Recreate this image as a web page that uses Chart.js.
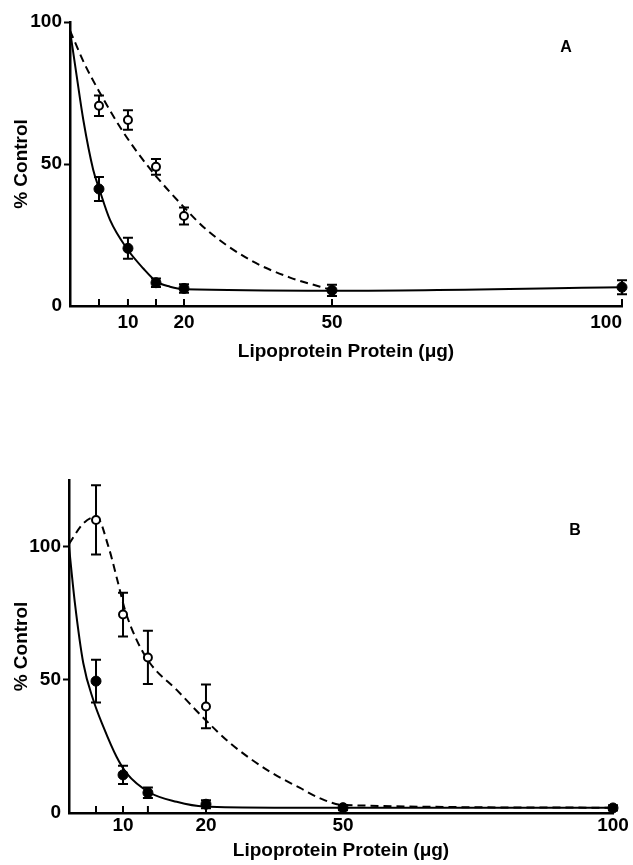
<!DOCTYPE html>
<html>
<head>
<meta charset="utf-8">
<script src="https://cdn.jsdelivr.net/npm/chart.js@4.4.1/dist/chart.umd.min.js"></script>
<style>
  html, body { margin: 0; padding: 0; background: #ffffff; }
  #chartA { position: absolute; left: 0; top: 0; }
  #chartB { position: absolute; left: 0; top: 440px; }
</style>
</head>
<body>
<canvas id="chartA" width="633" height="380"></canvas>
<canvas id="chartB" width="633" height="425"></canvas>
<script>
// ---------------- DATA ----------------
// x tick values (minor + labelled) and the labels shown
const xTicksA = [5, 10, 15, 20, 50, 100];
const xTicksB = [5, 10, 13, 20, 50, 100];
const xTickLabels = [10, 20, 50, 100];
const yTickValues = [0, 50, 100];

// Panel A measured points
const doseClosedA = [5, 10, 15, 20, 50, 100];
const closedA     = [41.2, 20.3, 8.2, 6.2, 5.5, 6.6];
const closedErrA  = [4.2, 3.7, 1.5, 1.5, 2, 2.5];
const doseOpenA   = [5, 10, 15, 20];
const openA       = [70.5, 65.5, 49, 31.7];
const openErrA    = [3.6, 3.4, 2.8, 3];

// Panel A fitted curves
const solidCurveXA = [0, 1.15, 2.3, 4.0, 5, 6.9, 10, 12.7, 15.1, 17.5, 20, 50, 100];
const solidCurveYA = [97, 81, 65.5, 48, 41.5, 30.3, 19.7, 13.3, 8.6, 6.8, 5.9, 5.4, 6.6];
const dashCurveXA  = [0, 2.5, 5.2, 8.6, 11.6, 15.1, 19.9, 24.6, 33.4, 41.5, 47.6, 50];
const dashCurveYA  = [97, 85.3, 74.9, 63.1, 54.3, 45.5, 35, 26.8, 16.2, 10, 6.8, 5.6];

// Panel B measured points
const doseClosedB = [5, 10, 13, 20, 50, 100];
const closedB     = [49.5, 14.3, 7.6, 3.3, 2, 1.9];
const closedErrB  = [8, 3.4, 2, 1.5, 1, 1];
const doseOpenB   = [5, 10, 13, 20];
const openB       = [110, 74.5, 58.4, 40];
const openErrB    = [13, 8.2, 10, 8.2];

// Panel B fitted curves
const solidCurveXB = [0, 1.1, 2.65, 4.5, 6.35, 8.8, 10.44, 13.26, 16.47, 19.76, 35, 50, 100];
const solidCurveYB = [100, 78.7, 56.2, 42.4, 32.4, 21.1, 14.9, 7.6, 4.2, 2.4, 2, 2, 2];
const dashCurveXB  = [0, 2.65, 5.1, 7.3, 9.1, 10.24, 11.65, 13.26, 16.47, 19.76, 25.3, 34, 40.6, 45, 50, 100];
const dashCurveYB  = [101, 108.7, 111.2, 100, 86.2, 76.2, 64.9, 56.2, 46.2, 35.5, 26.2, 15.5, 9.4, 5.5, 3, 2];

// Non-uniform x axis of the original drawing (value -> axis position)
const axisKnotValues = [0, 10, 20, 50, 100];
const axisKnotPosA   = [0, 10.5, 20.65, 47.46, 100];
const axisKnotPosB   = [0, 9.93, 25.18, 50.37, 100];

// ---------------- SCALE ----------------
function pw(v, from, to) {
  for (let i = 1; i < from.length; i++) {
    if (v <= from[i] || i === from.length - 1) {
      const r = (v - from[i - 1]) / (from[i] - from[i - 1]);
      return to[i - 1] + r * (to[i] - to[i - 1]);
    }
  }
  return v;
}
class WarpScale extends Chart.LinearScale {
  static id = 'warp';
  getPixelForValue(v) {
    const o = this.options;
    return super.getPixelForValue(pw(v, o.knotValues, o.knotPos));
  }
  getValueForPixel(p) {
    const o = this.options;
    return pw(super.getValueForPixel(p), o.knotPos, o.knotValues);
  }
}
Chart.register(WarpScale);

const FONT = '"Liberation Sans", Arial, sans-serif';

// ---------------- PLUGINS ----------------
const errorBars = {
  id: 'errorBars',
  beforeDatasetsDraw(chart) {
    const { ctx, scales: { x, y } } = chart;
    ctx.save();
    ctx.strokeStyle = '#000';
    ctx.lineWidth = 2;
    chart.data.datasets.forEach(ds => {
      if (!ds.errors) return;
      ds.data.forEach((p, i) => {
        const e = ds.errors[i];
        if (!e) return;
        const px = x.getPixelForValue(p.x);
        const y1 = y.getPixelForValue(p.y + e);
        const y2 = y.getPixelForValue(p.y - e);
        ctx.beginPath();
        ctx.moveTo(px, y1); ctx.lineTo(px, y2);
        ctx.moveTo(px - 5, y1); ctx.lineTo(px + 5, y1);
        ctx.moveTo(px - 5, y2); ctx.lineTo(px + 5, y2);
        ctx.stroke();
      });
    });
    ctx.restore();
  }
};
const innerTicks = {
  id: 'innerTicks',
  afterDatasetsDraw(chart) {
    const { ctx, scales: { x } } = chart;
    const b = x.top;
    ctx.save();
    ctx.strokeStyle = '#000';
    ctx.lineWidth = 2;
    x.ticks.forEach(t => {
      const px = x.getPixelForValue(t.value);
      ctx.beginPath(); ctx.moveTo(px, b); ctx.lineTo(px, b - 7); ctx.stroke();
    });
    ctx.restore();
  }
};
const panelLabel = {
  id: 'panelLabel',
  afterDraw(chart, args, opts) {
    const { ctx, chartArea } = chart;
    ctx.save();
    ctx.font = 'bold 16px ' + FONT;
    ctx.fillStyle = '#000';
    ctx.textAlign = 'center';
    ctx.textBaseline = 'middle';
    ctx.fillText(opts.text, chartArea.right + opts.dx, chartArea.top + opts.dy);
    ctx.restore();
  }
};

function pts(xs, ys) { return xs.map((v, i) => ({ x: v, y: ys[i] })); }

function makeChart(id, p) {
  return new Chart(document.getElementById(id), {
    type: 'line',
    data: {
      datasets: [
        { label: 'closed', data: pts(p.dc, p.c), errors: p.ce, showLine: false, order: 0,
          pointRadius: 5, pointBackgroundColor: '#000', pointBorderColor: '#000', pointBorderWidth: 1, clip: false },
        { label: 'open', data: pts(p.dox, p.o), errors: p.oe, showLine: false, order: 1,
          pointRadius: 4, pointBackgroundColor: '#fff', pointBorderColor: '#000', pointBorderWidth: 2, clip: false },
        { label: 'solid fit', data: pts(p.sx, p.sy), order: 2, pointRadius: 0, borderColor: '#000', borderWidth: 2,
          cubicInterpolationMode: 'monotone', fill: false, clip: false },
        { label: 'dashed fit', data: pts(p.dx, p.dy), order: 3, pointRadius: 0, borderColor: '#000', borderWidth: 2,
          borderDash: [8, 5], cubicInterpolationMode: 'monotone', fill: false, clip: false }
      ]
    },
    options: {
      responsive: false,
      animation: false,
      events: [],
      layout: { autoPadding: false, padding: p.pad },
      plugins: {
        legend: { display: false },
        tooltip: { enabled: false },
        panelLabel: p.label
      },
      scales: {
        x: {
          type: 'warp',
          knotValues: axisKnotValues,
          knotPos: p.knots,
          min: 0, max: 100,
          afterBuildTicks: s => { s.ticks = p.xt.map(v => ({ value: v })); },
          afterFit: s => { s.height = p.xh; s.paddingLeft = 0; s.paddingRight = 0; },
          grid: { display: false, drawTicks: false },
          border: { display: true, color: '#000', width: 2.5 },
          ticks: {
            autoSkip: false, maxRotation: 0, padding: p.xpad, color: '#000', align: p.xalign,
            font: { family: FONT, size: 19, weight: 'bold' },
            callback: v => xTickLabels.includes(v) ? String(v) : ''
          },
          title: {
            display: true, text: 'Lipoprotein Protein (\u03BCg)', color: '#000',
            font: { family: FONT, size: 19, weight: 'bold' },
            padding: { top: 0, bottom: p.tpad }
          }
        },
        y: {
          type: 'linear',
          min: 0, max: p.ymax,
          afterBuildTicks: s => { s.ticks = yTickValues.map(v => ({ value: v })); },
          afterFit: s => { s.width = p.yw; s.paddingTop = 0; s.paddingBottom = 0; },
          grid: {
            display: true, drawOnChartArea: false, drawTicks: true, tickLength: 6,
            tickWidth: 2, tickColor: c => (c.tick && c.tick.value === 0) ? 'rgba(0,0,0,0)' : '#000'
          },
          border: { display: true, color: '#000', width: 2.5 },
          ticks: {
            padding: 2, color: '#000',
            font: { family: FONT, size: 19, weight: 'bold' },
            callback: v => String(v)
          },
          title: {
            display: true, text: '% Control', color: '#000',
            font: { family: FONT, size: 19, weight: 'bold' },
            padding: { top: 10, bottom: 0 }
          }
        }
      }
    },
    plugins: [errorBars, innerTicks, panelLabel]
  });
}

makeChart('chartA', {
  dc: doseClosedA, c: closedA, ce: closedErrA,
  dox: doseOpenA, o: openA, oe: openErrA,
  sx: solidCurveXA, sy: solidCurveYA, dx: dashCurveXA, dy: dashCurveYA,
  knots: axisKnotPosA, xt: xTicksA, ymax: 100,
  pad: { top: 22, right: 11, left: 0, bottom: 0 },
  xh: 74, yw: 70, xpad: 5, tpad: 17, xalign: 'inner',
  label: { text: 'A', dx: -56, dy: 26 }
});
makeChart('chartB', {
  dc: doseClosedB, c: closedB, ce: closedErrB,
  dox: doseOpenB, o: openB, oe: openErrB,
  sx: solidCurveXB, sy: solidCurveYB, dx: dashCurveXB, dy: dashCurveYB,
  knots: axisKnotPosB, xt: xTicksB, ymax: 125,
  pad: { top: 40, right: 20, left: 0, bottom: 0 },
  xh: 52, yw: 69, xpad: 1, tpad: 3, xalign: 'center',
  label: { text: 'B', dx: -38, dy: 51 }
});
</script>
</body>
</html>
